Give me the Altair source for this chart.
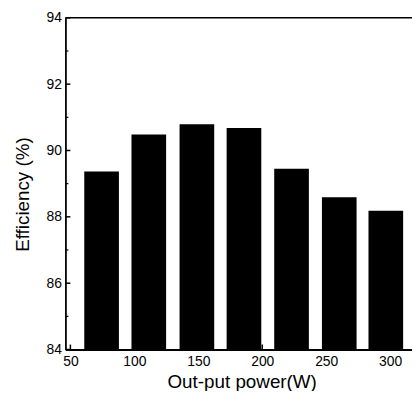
import altair as alt
import pandas as pd

# ---- data ----
power = [74.4, 111.3, 148.9, 185.7, 222.9, 260.2, 296.6]
efficiency = [89.37, 90.48, 90.79, 90.68, 89.45, 88.59, 88.18]
x_ticks = [50, 100, 150, 200, 250, 300]
y_major = [84, 86, 88, 90, 92, 94]
y_minor = [85, 87, 89, 91, 93]

W, H = 350, 335
FONT = "Liberation Sans"

df = pd.DataFrame({"power": power, "eff": efficiency})
xscale = alt.Scale(domain=[50, 313.2], nice=False, zero=False)
yscale = alt.Scale(domain=[84, 94], nice=False, zero=False)

xaxis = alt.Axis(values=x_ticks, title="Out-put power(W)",
                 titleX=178, titleY=38, titleAlign="center",
                 titleBaseline="alphabetic", labelPadding=5,
                 labelBaseline="top")
yaxis = alt.Axis(values=y_major, title="Efficiency (%)",
                 titleX=-43.5, titleY=178, titleAngle=270,
                 titleAlign="center", titleBaseline="middle",
                 labelPadding=4)

bars = alt.Chart(df).mark_bar(color="black", size=35).encode(
    x=alt.X("power:Q", scale=xscale, axis=xaxis, title="Out-put power(W)"),
    y=alt.Y("eff:Q", scale=yscale, axis=yaxis, title="Efficiency (%)"),
    y2=alt.datum(84),
)

ymaj = alt.Chart(pd.DataFrame({"v": y_major})).mark_rule(
    color="black", strokeWidth=1.5).encode(
    y=alt.Y("v:Q", scale=yscale, axis=yaxis, title="Efficiency (%)"),
    x=alt.value(0), x2=alt.value(5))

ymin = alt.Chart(pd.DataFrame({"v": y_minor})).mark_rule(
    color="black", strokeWidth=1.2).encode(
    y=alt.Y("v:Q", scale=yscale, axis=yaxis, title="Efficiency (%)"),
    x=alt.value(0), x2=alt.value(3))

xmaj = alt.Chart(pd.DataFrame({"v": x_ticks})).mark_rule(
    color="black", strokeWidth=1.5).encode(
    x=alt.X("v:Q", scale=xscale, axis=xaxis, title="Out-put power(W)"),
    y=alt.value(H), y2=alt.value(H - 5))

top = alt.Chart(pd.DataFrame({"a": [0]})).mark_rule(
    color="black", strokeWidth=1.5).encode(
    x=alt.value(0), x2=alt.value(W), y=alt.value(0))

chart = alt.layer(bars, ymaj, ymin, xmaj, top).properties(
    width=W, height=H,
    autosize=alt.AutoSizeParams(type="none"),
    padding={"left": 58, "top": 8, "right": 0, "bottom": 40},
).configure_view(stroke=None).configure_axis(
    grid=False, ticks=False, tickSize=0,
    domainColor="black", domainWidth=1.8,
    labelFont=FONT, labelFontSize=14, labelColor="black",
    titleFont=FONT, titleFontSize=19, titleFontWeight="normal",
    titleColor="black",
)

chart.save("out.html", embed_options={"renderer": "svg", "actions": False})
